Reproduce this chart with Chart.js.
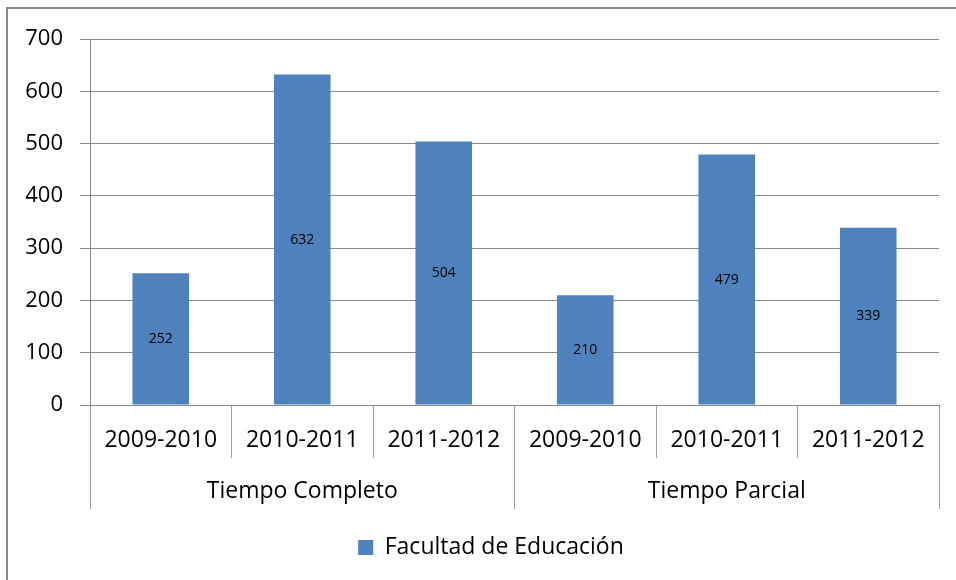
<!DOCTYPE html>
<html>
<head>
<meta charset="utf-8">
<script src="https://cdn.jsdelivr.net/npm/chart.js@4/dist/chart.umd.min.js"></script>
<style>
  html, body { margin: 0; padding: 0; background: #fff; }
  #wrap { position: relative; width: 956px; height: 580px; overflow: hidden; }
  #frame { position: absolute; left: 6px; top: 7px; width: 1000px; height: 1000px;
           border-top: 2px solid #8a8a8a; border-left: 2px solid #8a8a8a; }
  canvas { position: absolute; left: 0; top: 0; }
</style>
</head>
<body>
<div id="wrap">
  <div id="frame"></div>
  <canvas id="c" width="956" height="580"></canvas>
</div>
<script>
const yearLabels = ['2009-2010', '2010-2011', '2011-2012', '2009-2010', '2010-2011', '2011-2012'];
const groupLabels = ['Tiempo Completo', 'Tiempo Parcial'];
const seriesName = 'Facultad de Educación';
const seriesValues = [252, 632, 504, 210, 479, 339];
const yTicks = [0, 100, 200, 300, 400, 500, 600, 700];

const FONT = '"Open Sans", Lato, sans-serif';
const GRID = '#8a8a8a';
const SEP = '#a0a0a0';
const BAR = '#4F81BD';

const dataLabels = {
  id: 'dataLabels',
  afterDatasetsDraw(chart) {
    const ctx = chart.ctx;
    ctx.save();
    ctx.font = '14px ' + FONT;
    ctx.fillStyle = '#000';
    ctx.textAlign = 'center';
    ctx.textBaseline = 'middle';
    chart.data.datasets.forEach((ds, i) => {
      chart.getDatasetMeta(i).data.forEach((el, j) => {
        const p = el.getProps(['x', 'y', 'base'], true);
        ctx.fillText(String(ds.data[j]), p.x, (p.y + p.base) / 2);
      });
    });
    ctx.restore();
  }
};

// centre the legend under the framed chart (frame starts further left than the canvas content)
const legendShift = {
  id: 'legendShift',
  afterLayout(chart) {
    if (chart.legend) { chart.legend.left = 43; }
  }
};

new Chart(document.getElementById('c'), {
  type: 'bar',
  data: {
    labels: yearLabels,
    datasets: [{
      label: seriesName,
      data: seriesValues,
      backgroundColor: BAR,
      borderWidth: 0,
      categoryPercentage: 1,
      barPercentage: 0.4,
      xAxisID: 'x',
      yAxisID: 'y'
    }]
  },
  options: {
    responsive: false,
    animation: false,
    devicePixelRatio: 1,
    layout: { padding: { left: 0, right: 17, top: 39, bottom: 11 } },
    plugins: {
      tooltip: { enabled: false },
      legend: {
        position: 'bottom',
        labels: {
          font: { family: FONT, size: 23 },
          color: '#000',
          boxWidth: 15,
          boxHeight: 15,
          padding: 8
        }
      }
    },
    scales: {
      y: {
        min: 0,
        max: 700,
        afterBuildTicks(scale) { scale.ticks = yTicks.map(v => ({ value: v })); },
        afterFit(scale) { scale.width = 90; },
        ticks: { font: { family: FONT, size: 22 }, color: '#000', padding: 17 },
        grid: { color: GRID, tickLength: 10, lineWidth: 1 },
        border: { color: GRID }
      },
      x: {
        type: 'category',
        offset: true,
        weight: 0,
        afterFit(scale) { scale.height = 53; },
        ticks: { font: { family: FONT, size: 23 }, color: '#000', padding: -31, maxRotation: 0, autoSkip: false },
        grid: { offset: true, drawOnChartArea: false, tickLength: 53, color: SEP },
        border: { color: GRID }
      },
      x2: {
        type: 'category',
        labels: groupLabels,
        position: 'bottom',
        offset: true,
        weight: 1,
        afterFit(scale) { scale.height = 70; },
        ticks: { font: { family: FONT, size: 23 }, color: '#000', padding: -31, maxRotation: 0, autoSkip: false },
        grid: { offset: true, drawOnChartArea: false, tickLength: 51, color: SEP },
        border: { display: false }
      }
    }
  },
  plugins: [dataLabels, legendShift]
});
</script>
</body>
</html>
